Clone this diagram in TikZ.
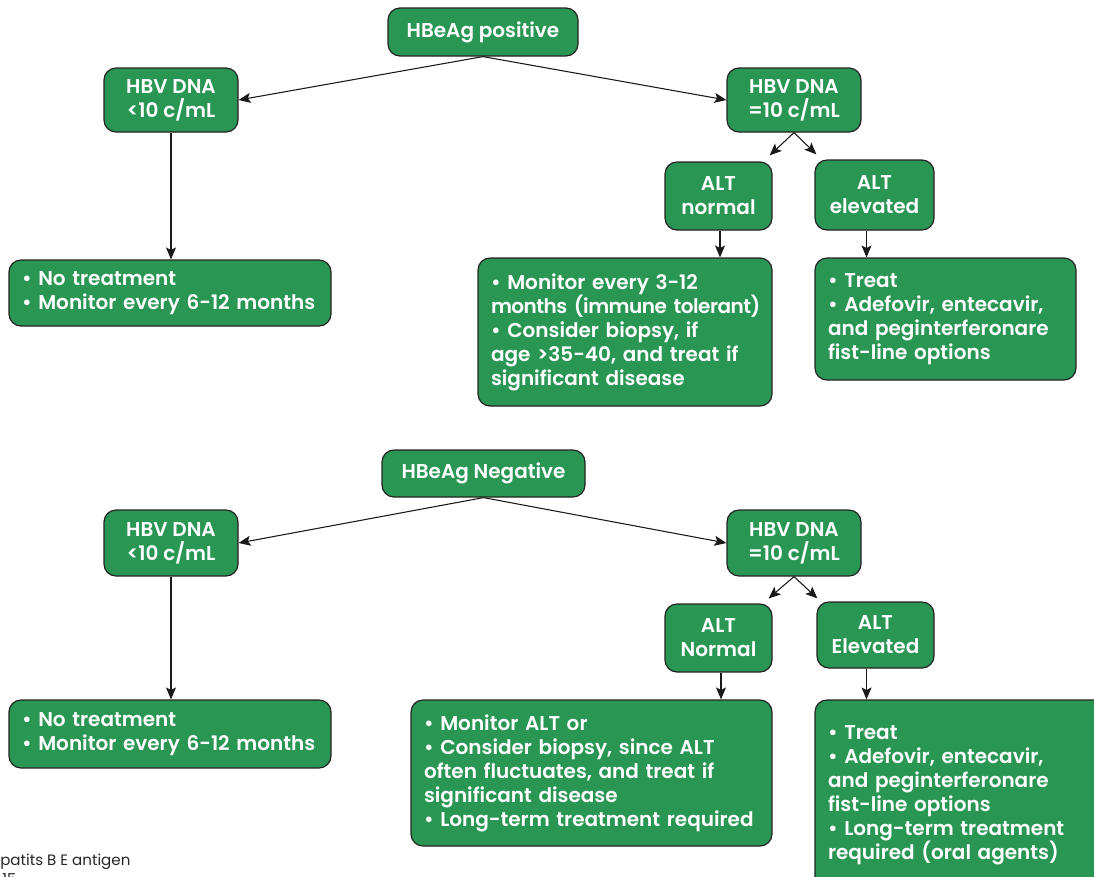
\documentclass[tikz,border=0pt]{standalone}
\usepackage{fontspec}
\setmainfont{Poppins}[BoldFont={Poppins SemiBold}]
\usetikzlibrary{arrows.meta,calc}
\definecolor{hgreen}{RGB}{42,150,84}
\definecolor{boxline}{RGB}{35,35,35}
\tikzset{
  box/.style={draw=boxline, fill=hgreen, line width=0.9pt, rounded corners=9pt,
    text=white, font=\bfseries\fontsize{15}{18}\selectfont, inner sep=0pt, align=center},
  lbox/.style={box, align=left, inner xsep=9.75pt},
  arr/.style={draw=black!90, line width=0.8pt, -{Stealth[length=9pt,width=7.5pt,inset=2pt]}},
  foot/.style={font=\fontsize{11.3}{13}\selectfont, text=black!85, inner sep=0pt}
}
\begin{document}
\begin{tikzpicture}[x=0.75pt,y=-0.75pt]
\useasboundingbox (0,0) rectangle (1094,876);
% ---------- HBeAg positive ----------
\node[box, minimum width=142.5pt, minimum height=36pt] (pos) at (483,32) {HBeAg positive};
\node[box, minimum width=100.5pt, minimum height=48pt] (dnaL1) at (171,100) {HBV DNA\\<10 c/mL};
\node[box, minimum width=100.5pt, minimum height=48pt] (dnaR1) at (794,100) {HBV DNA\\=10 c/mL};
\node[box, minimum width=80.25pt, minimum height=51pt] (altN1) at (718.5,196) {ALT\\normal};
\node[box, minimum width=89.25pt, minimum height=52.5pt] (altE1) at (874.5,195) {ALT\\elevated};
\node[lbox, minimum width=241.5pt, minimum height=49.5pt, text width=222pt] (noT1) at (170,293)
  {• No treatment\\• Monitor every 6-12 months};
\node[lbox, minimum width=220.5pt, minimum height=111pt, text width=201pt] (mon1) at (625,332)
  {• Monitor every 3-12\\\mbox{\addfontfeatures{LetterSpace=-2.5}months (immune tolerant)}\\• Consider biopsy, if\\age >35-40, and treat if\\significant disease};
\node[lbox, minimum width=195.75pt, minimum height=91.5pt, text width=176.25pt] (treat1) at (945.5,319)
  {• Treat\\• Adefovir, entecavir,\\and peginterferonare\\fist-line options};
\draw[arr] (pos.south) -- (dnaL1.east);
\draw[arr] (pos.south) -- (dnaR1.west);
\draw[arr] (dnaR1.south) -- ([shift={(-3,-6)}]altN1.north east);
\draw[arr] (dnaR1.south) -- ([shift={(2,-5)}]altE1.north west);
\draw[arr] (dnaL1.south) -- (dnaL1.south |- noT1.north);
\draw[arr] ([shift={(1.5,0)}]altN1.south) -- ([shift={(1.5,0)}]altN1.south |- mon1.north);
\draw[arr] ([shift={(-8,0)}]altE1.south) -- ([shift={(-8,0)}]altE1.south |- treat1.north);
% ---------- HBeAg negative ----------
\node[box, minimum width=152.25pt, minimum height=35.25pt] (neg) at (483.5,473.5) {HBeAg Negative};
\node[box, minimum width=100.5pt, minimum height=49.5pt] (dnaL2) at (171,543) {HBV DNA\\<10 c/mL};
\node[box, minimum width=100.5pt, minimum height=49.5pt] (dnaR2) at (794,543) {HBV DNA\\=10 c/mL};
\node[box, minimum width=80.25pt, minimum height=51pt] (altN2) at (718.5,638) {ALT\\Normal};
\node[box, minimum width=87.75pt, minimum height=49.5pt] (altE2) at (875.5,635) {ALT\\Elevated};
\node[lbox, minimum width=241.5pt, minimum height=51pt, text width=222pt] (noT2) at (170,734)
  {• No treatment\\• Monitor every 6-12 months};
\node[lbox, minimum width=270.75pt, minimum height=109.5pt, text width=251.25pt] (mon2) at (591.5,773)
  {• Monitor ALT or\\• Consider biopsy, since ALT\\often fluctuates, and treat if\\significant disease\\\mbox{• Long-term treatment required}};
\node[lbox, minimum width=221.25pt, minimum height=142.5pt, text width=201.75pt] (treat2) at (962.5,795)
  {• Treat\\• Adefovir, entecavir,\\and peginterferonare\\fist-line options\\• Long-term treatment\\required (oral agents)};
\draw[arr] (neg.south) -- (dnaL2.east);
\draw[arr] (neg.south) -- (dnaR2.west);
\draw[arr] (dnaR2.south) -- ([shift={(-4,-5)}]altN2.north east);
\draw[arr] (dnaR2.south) -- ([shift={(1,-3)}]altE2.north west);
\draw[arr] (dnaL2.south) -- (dnaL2.south |- noT2.north);
\draw[arr] ([shift={(2.5,0)}]altN2.south) -- ([shift={(2.5,0)}]altN2.south |- mon2.north);
\draw[arr] ([shift={(-9,0)}]altE2.south) -- ([shift={(-9,0)}]altE2.south |- treat2.north);
% ---------- footnote ----------
\node[foot, anchor=base west] (fn1) at (0,865) {patits B E antigen};
\node[foot, anchor=base west] (fn2) at (2,884) {15};
\end{tikzpicture}
\end{document}
